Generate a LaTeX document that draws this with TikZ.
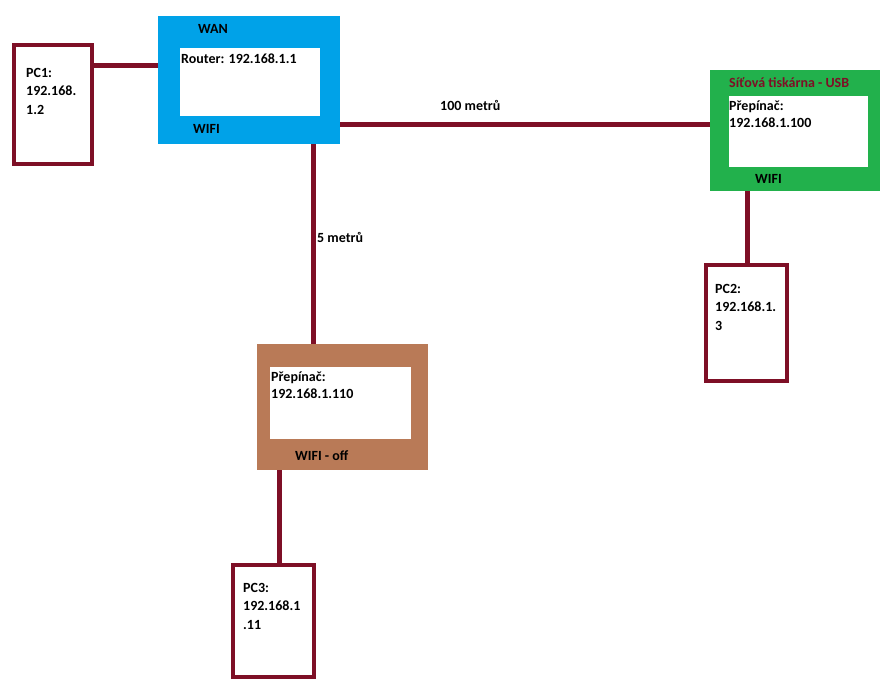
\documentclass[tikz,border=0pt]{standalone}
\usepackage{fontspec}
\setmainfont{Carlito}
\usetikzlibrary{positioning}
\definecolor{paintred}{HTML}{7E0F26}
\definecolor{paintblue}{HTML}{00A2E8}
\definecolor{paintgreen}{HTML}{22B14C}
\definecolor{paintbrown}{HTML}{B97A57}

\begin{document}
\begin{tikzpicture}[x=1pt,y=-1pt,
  pcbox/.style={draw=paintred,line width=4.5pt,fill=white,inner sep=0pt},
  devbox/.style={fill=#1,inner sep=0pt,outer sep=0pt},
  panel/.style={fill=white,inner sep=0pt,outer sep=0pt},
  txt/.style={anchor=base west,inner sep=0pt,align=left,font=\bfseries\fontsize{14}{18.5}\selectfont},
  link/.style={draw=paintred,line width=5pt}]
\useasboundingbox[fill=white] (0,0) rectangle (894,694);
% devices
\node[devbox=paintblue,minimum width=182pt,minimum height=128pt] (router) at (249,80) {};
\node[panel,minimum width=140pt,minimum height=68pt] (routerpanel) at (250,82) {};
\node[devbox=paintgreen,minimum width=170pt,minimum height=121pt] (sitova) at (795,130.5) {};
\node[panel,minimum width=139pt,minimum height=71pt] (sitovapanel) at (798.5,131.5) {};
\node[devbox=paintbrown,minimum width=171pt,minimum height=126pt] (prepinac) at (342.5,407) {};
\node[panel,minimum width=141pt,minimum height=72pt] (prepinacpanel) at (340.5,403) {};
% computers
\node[pcbox,minimum width=78pt,minimum height=119pt] (pc1) at (53,104.5) {};
\node[pcbox,minimum width=81pt,minimum height=116pt] (pc2) at (746.5,323) {};
\node[pcbox,minimum width=81pt,minimum height=112pt] (pc3) at (273.5,621) {};
% cables
\draw[link] (pc1.east |- 0,65) -- (router.west |- 0,65);
\draw[link] (router.east |- 0,124) -- (sitova.west |- 0,124);
\draw[link] (router.south -| 313,0) -- (prepinac.north -| 313,0);
\draw[link] (sitova.south -| 747,0) -- (pc2.north -| 747,0);
\draw[link] (prepinac.south -| 279,0) -- (pc3.north -| 279,0);
% texts (multi-line nodes sit on their last baseline)
\node[txt] (wan) at (198,33) {WAN};
\node[txt] (routerip) at (181,63) {Router: 192.168.1.1};
\node[txt] (routerwifi) at (193,133) {WIFI};
\node[txt,text=paintred] (tiskarna) at (729,87) {Síťová tiskárna - USB};
\node[txt] (sitovaip) at (729,127) {Přepínač:\\[-2pt]192.168.1.100};
\node[txt] (sitovawifi) at (755,183) {WIFI};
\node[txt] (prepinacip) at (271,398) {Přepínač:\\[-2pt]192.168.1.110};
\node[txt] (prepinacwifi) at (295,460) {WIFI - off};
\node[txt] (pc1ip) at (26,114) {PC1:\\192.168.\\1.2};
\node[txt] (pc2ip) at (715,330) {PC2:\\192.168.1.\\3};
\node[txt] (pc3ip) at (243,629) {PC3:\\192.168.1\\.11};
\node[txt] (dalka) at (440,110) {100 metrů};
\node[txt] (blizko) at (317,242) {5 metrů};
\end{tikzpicture}
\end{document}
